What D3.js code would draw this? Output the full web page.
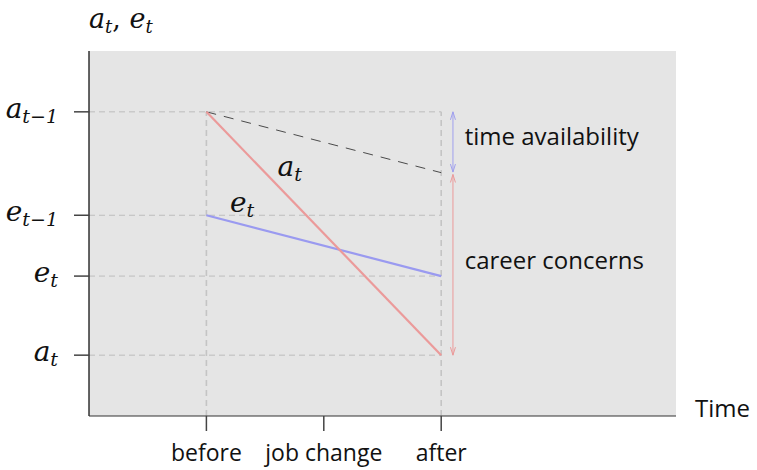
<!DOCTYPE html>
<html>
<head>
<meta charset="utf-8">
<script src="https://cdn.jsdelivr.net/npm/d3@7"></script>
<style>
  body { margin: 0; background: #fff; }
  .sans { font-family: "Open Sans", sans-serif; }
  .math { font-family: "DejaVu Serif", serif; font-style: italic; }
</style>
</head>
<body>
<div id="chart"></div>
<script>
// categories on the time axis (positions 1, 2, 3)
const timeCats = ['before', 'job change', 'after'];
const timePos = [1, 2, 3];

// y tick values and their labels (base, subscript)
const yTickVals = [5, 3.3, 2.3, 1];
const yTickLabels = [['a', 't\u22121'], ['e', 't\u22121'], ['e', 't'], ['a', 't']];

// series values at "before" and "after"
const aSeries = [5, 1];
const eSeries = [3.3, 2.3];
const benchSeries = [5, 4];

const width = 757, height = 470;
const margin = {top: 51, right: 81, bottom: 54, left: 89};

const svg = d3.select('#chart').append('svg')
  .attr('width', width)
  .attr('height', height);

const x = d3.scaleLinear().domain([0, 5]).range([margin.left, width - margin.right]);
const y = d3.scaleLinear().domain([0, 6]).range([height - margin.bottom, margin.top]);

// panel background
svg.append('rect')
  .attr('x', x(0)).attr('y', y(6))
  .attr('width', x(5) - x(0)).attr('height', y(0) - y(6))
  .attr('fill', '#e5e5e5');

const grid = '#bdbdbd';

// horizontal guide lines
svg.selectAll('.hgrid')
  .data(yTickVals)
  .enter().append('line')
  .attr('x1', x(0)).attr('x2', x(3))
  .attr('y1', d => y(d)).attr('y2', d => y(d))
  .attr('stroke', grid).attr('stroke-width', 1)
  .attr('stroke-dasharray', '6,4');

// vertical guide lines at before / after
svg.selectAll('.vgrid')
  .data([1, 3])
  .enter().append('line')
  .attr('x1', d => x(d)).attr('x2', d => x(d))
  .attr('y1', y(0)).attr('y2', y(5))
  .attr('stroke', '#c4c4c4').attr('stroke-width', 1.6)
  .attr('stroke-dasharray', '6,4');

// benchmark dashed line
svg.append('line')
  .attr('x1', x(1)).attr('y1', y(benchSeries[0]))
  .attr('x2', x(3)).attr('y2', y(benchSeries[1]))
  .attr('stroke', '#222').attr('stroke-width', 0.8)
  .attr('stroke-dasharray', '10,8');

// e_t line
svg.append('line')
  .attr('x1', x(1)).attr('y1', y(eSeries[0]))
  .attr('x2', x(3)).attr('y2', y(eSeries[1]))
  .attr('stroke', '#9a9af0').attr('stroke-width', 2.2);

// a_t line
svg.append('line')
  .attr('x1', x(1)).attr('y1', y(aSeries[0]))
  .attr('x2', x(3)).attr('y2', y(aSeries[1]))
  .attr('stroke', '#eb9a9a').attr('stroke-width', 2.2);

// double-headed arrows
function arrow(xv, y0, y1, color) {
  const g = svg.append('g').attr('stroke', color).attr('fill', 'none').attr('stroke-width', 1);
  const xp = x(xv), ya = y(y0), yb = y(y1);
  g.append('line').attr('x1', xp).attr('x2', xp).attr('y1', ya).attr('y2', yb);
  const hw = 2.5, hl = 8;
  g.append('path').attr('d', `M${xp - hw},${ya + hl} L${xp},${ya} L${xp + hw},${ya + hl}`);
  g.append('path').attr('d', `M${xp - hw},${yb - hl} L${xp},${yb} L${xp + hw},${yb - hl}`);
}
arrow(3.1, 5, 4.01, '#a0a0ee');
arrow(3.1, 3.97, 1, '#eb9a9a');

// axes
svg.append('line')
  .attr('x1', x(0)).attr('x2', x(0)).attr('y1', y(6)).attr('y2', y(0))
  .attr('stroke', '#000').attr('stroke-width', 1.2);
svg.append('line')
  .attr('x1', x(0)).attr('x2', x(5)).attr('y1', y(0)).attr('y2', y(0))
  .attr('stroke', '#333').attr('stroke-width', 1.2);

// x ticks
svg.selectAll('.xtick')
  .data(timePos)
  .enter().append('line')
  .attr('x1', d => x(d)).attr('x2', d => x(d))
  .attr('y1', y(0)).attr('y2', y(0) + 15)
  .attr('stroke', '#444').attr('stroke-width', 1.5);

svg.selectAll('.xlab')
  .data(timeCats)
  .enter().append('text')
  .attr('class', 'sans')
  .attr('x', (d, i) => x(timePos[i]))
  .attr('y', y(0) + 45)
  .attr('text-anchor', 'middle')
  .attr('font-size', 23)
  .attr('fill', '#111')
  .text(d => d);

// y ticks
svg.selectAll('.ytick')
  .data(yTickVals)
  .enter().append('line')
  .attr('x1', x(0) - 15).attr('x2', x(0))
  .attr('y1', d => y(d)).attr('y2', d => y(d))
  .attr('stroke', '#444').attr('stroke-width', 1.5);

const ylab = svg.selectAll('.ylab')
  .data(yTickVals)
  .enter().append('text')
  .attr('class', 'math')
  .attr('x', x(0) - 31)
  .attr('y', d => y(d) + 6)
  .attr('text-anchor', 'end')
  .attr('font-size', 28)
  .attr('fill', '#111');
ylab.append('tspan').text((d, i) => yTickLabels[i][0]);
ylab.append('tspan')
  .attr('font-size', 19)
  .attr('dy', 5)
  .text((d, i) => yTickLabels[i][1]);

// math label helper
function mathLabel(px, py, base, sub, size) {
  const t = svg.append('text').attr('class', 'math')
    .attr('x', px).attr('y', py).attr('font-size', size).attr('fill', '#111');
  t.append('tspan').text(base);
  t.append('tspan').attr('font-size', size * 0.68).attr('dy', 5).text(sub);
  return t;
}

// y axis title "a_t, e_t"
const title = svg.append('text').attr('class', 'math')
  .attr('x', x(0)).attr('y', 28).attr('font-size', 27).attr('fill', '#111');
title.append('tspan').text('a');
title.append('tspan').attr('font-size', 18).attr('dy', 5).text('t');
title.append('tspan').attr('dy', -5).attr('font-style', 'normal').text(', ');
title.append('tspan').text('e');
title.append('tspan').attr('font-size', 18).attr('dy', 5).text('t');

// line labels
mathLabel(x(1.605), y(3.95), 'a', 't', 28);
mathLabel(x(1.2), y(3.35), 'e', 't', 28);

// annotations
svg.append('text').attr('class', 'sans')
  .attr('x', x(3.2)).attr('y', y(4.45))
  .attr('font-size', 24).attr('fill', '#111')
  .text('time availability');
svg.append('text').attr('class', 'sans')
  .attr('x', x(3.2)).attr('y', y(2.42))
  .attr('font-size', 24).attr('fill', '#111')
  .text('career concerns');

// x axis title
svg.append('text').attr('class', 'sans')
  .attr('x', x(5) + 19).attr('y', y(0) + 1)
  .attr('font-size', 24).attr('fill', '#111')
  .text('Time');
</script>
</body>
</html>
